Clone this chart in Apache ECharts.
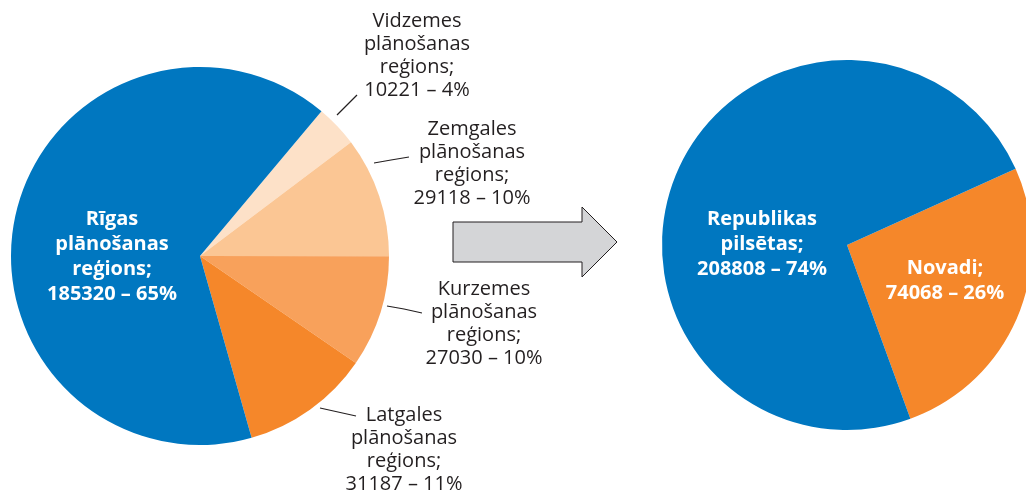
<!DOCTYPE html>
<html><head><meta charset="utf-8">
<script src="https://cdn.jsdelivr.net/npm/echarts@6/dist/echarts.min.js"></script>
<style>html,body{margin:0;padding:0;background:#fff}#c{width:1026px;height:490px}</style>
</head><body><div id="c"></div>
<script>
// ---- data ----
const regionNames = ['Vidzemes\nplānošanas\nreģions;', 'Zemgales\nplānošanas\nreģions;', 'Kurzemes\nplānošanas\nreģions;', 'Latgales\nplānošanas\nreģions;', 'Rīgas\nplānošanas\nreģions;'];
const regionValues = [10221, 29118, 27030, 31187, 185320];
const regionPercents = [4, 10, 10, 11, 65];
const typeNames = ['Novadi;', 'Republikas\npilsētas;'];
const typeValues = [74068, 208808];
const typePercents = [26, 74];

// ---- styles / layout ----
const regionColors = ['#fde1c8', '#fbc694', '#f8a15b', '#f5872a', '#0077c0'];
const typeColors = ['#f5872a', '#0077c0'];
const textColor = '#231f20';
const font = '"Open Sans", "DejaVu Sans", sans-serif';
const regionLabelPos = [[417, 56], [472, 164], [484, 324], [404, 450], [112, 257]];
const regionLeaders = [
  [[337, 115], [347, 105], [357, 95]],
  [[374, 163], [391, 160], [409, 157]],
  [[387, 306], [404, 309], [422, 313]],
  [[320, 408], [338, 412], [356, 416]],
  null
];
const typeLabelPos = [[945, 281], [762, 244]];

function mkData(names, values, percents, colors, insideIdx) {
  return names.map((n, i) => {
    const inside = insideIdx.indexOf(i) >= 0;
    return {
      name: n, value: values[i], pct: percents[i],
      itemStyle: { color: colors[i] },
      label: inside ? {
        position: 'inside', color: '#fff', fontWeight: 'bold', fontSize: 20, lineHeight: 25
      } : {
        position: 'outside', color: textColor, fontWeight: 'normal', fontSize: 20, lineHeight: 23
      },
      labelLine: { show: !inside }
    };
  });
}

const chart = echarts.init(document.getElementById('c'), null, { renderer: 'canvas' });
const fmt = p => p.name + '\n' + p.value + ' – ' + p.data.pct + '%';
chart.setOption({
  animation: false,
  textStyle: { fontFamily: font },
  series: [
    {
      type: 'pie', center: [200, 256], radius: 189, startAngle: 50, clockwise: true,
      data: mkData(regionNames, regionValues, regionPercents, regionColors, [4]),
      label: { formatter: fmt, fontFamily: font, align: 'center' },
      labelLine: { length: 10, length2: 10, lineStyle: { color: textColor, width: 1.2 } },
      labelLayout: p => {
        const o = { x: regionLabelPos[p.dataIndex][0], y: regionLabelPos[p.dataIndex][1], align: 'center', verticalAlign: 'middle' };
        if (regionLeaders[p.dataIndex]) o.labelLinePoints = regionLeaders[p.dataIndex];
        return o;
      },
      emphasis: { disabled: true }
    },
    {
      type: 'pie', center: [847, 245], radius: 185, startAngle: 24.3, clockwise: true,
      data: mkData(typeNames, typeValues, typePercents, typeColors, [0, 1]),
      label: { formatter: fmt, fontFamily: font, align: 'center' },
      labelLayout: p => ({ x: typeLabelPos[p.dataIndex][0], y: typeLabelPos[p.dataIndex][1], align: 'center', verticalAlign: 'middle' }),
      emphasis: { disabled: true }
    }
  ],
  graphic: [{
    type: 'polygon',
    shape: { points: [[453, 222], [582, 222], [582, 207], [617, 242], [582, 277], [582, 262], [453, 262]] },
    style: { fill: '#d4d5d7', stroke: '#231f20', lineWidth: 1 }
  }]
});
</script></body></html>
